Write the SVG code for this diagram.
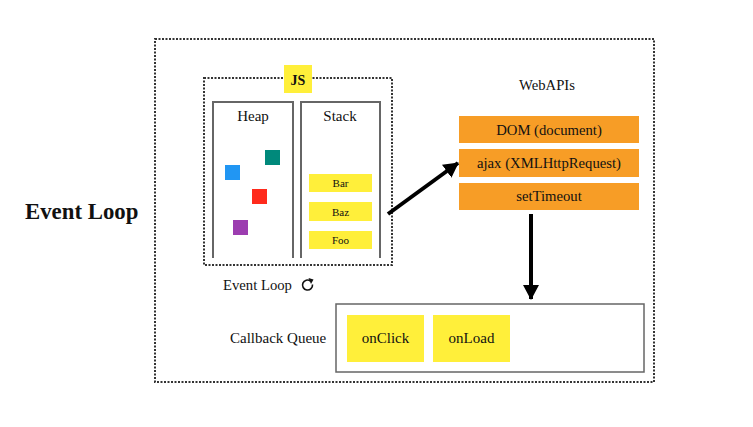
<svg xmlns="http://www.w3.org/2000/svg" width="753" height="427" viewBox="0 0 753 427">
<defs>
<style>
text{font-family:"Liberation Serif","Times New Roman",serif;fill:#111;}
.dot{fill:none;stroke:#333;stroke-width:2;stroke-dasharray:2 1.5;}
.panel{fill:none;stroke:#666;stroke-width:2;}
.stk{fill:#FFEF3A;}
.api{fill:#F79D26;}
.conn{stroke:#000;stroke-width:4;fill:none;}
</style>
<marker id="ah" markerUnits="userSpaceOnUse" markerWidth="18" markerHeight="18" refX="14" refY="9" orient="auto" viewBox="0 0 18 18">
<path d="M0,1 L15,9 L0,17 Z" fill="#000"/>
</marker>
</defs>
<rect width="753" height="427" fill="#fff"/>
<g id="title"><text x="25" y="219" font-size="22.8" font-weight="bold">Event Loop</text></g>
<g id="outer"><rect class="dot" x="155" y="39" width="499" height="343"/></g>
<g id="js-engine">
<rect class="dot" x="204" y="78" width="188" height="187"/>
<rect x="284" y="65" width="28" height="28" fill="#FFEF3A"/>
<text x="298" y="85" font-size="14" font-weight="bold" text-anchor="middle">JS</text>
</g>
<g id="heap">
<path class="panel" d="M213,258 V102 H293 V258"/>
<text x="253" y="121" font-size="15" text-anchor="middle">Heap</text>
<rect x="265" y="150" width="15" height="15" fill="#00897B"/>
<rect x="225" y="165" width="15" height="15" fill="#2196F3"/>
<rect x="252" y="189" width="15" height="15" fill="#FF2A1C"/>
<rect x="233" y="220" width="15" height="15" fill="#9C3DB0"/>
</g>
<g id="stack">
<path class="panel" d="M301,258 V102 H380 V258"/>
<text x="340" y="121" font-size="15" text-anchor="middle">Stack</text>
<g id="bar"><rect class="stk" x="309" y="174" width="63" height="18"/><text x="340.5" y="187" font-size="11" text-anchor="middle">Bar</text></g>
<g id="baz"><rect class="stk" x="309" y="202" width="63" height="19"/><text x="340.5" y="215.5" font-size="11" text-anchor="middle">Baz</text></g>
<g id="foo"><rect class="stk" x="309" y="231" width="63" height="18"/><text x="340.5" y="244" font-size="11" text-anchor="middle">Foo</text></g>
</g>
<g id="webapis">
<text x="547" y="90" font-size="14.7" text-anchor="middle">WebAPIs</text>
<g id="dom"><rect class="api" x="459" y="116" width="180" height="27"/><text x="549" y="134.5" font-size="14.7" text-anchor="middle">DOM (document)</text></g>
<g id="ajax"><rect class="api" x="459" y="149" width="180" height="28"/><text x="549" y="167.5" font-size="14.7" text-anchor="middle">ajax (XMLHttpRequest)</text></g>
<g id="settimeout"><rect class="api" x="459" y="183" width="180" height="27"/><text x="549" y="201" font-size="14.7" text-anchor="middle">setTimeout</text></g>
</g>
<g id="event-loop-label">
<text x="223" y="290" font-size="14.7">Event Loop</text>
<path d="M312.5,284.5 A5,5 0 1 1 310.5,281" fill="none" stroke="#111" stroke-width="1.6"/>
<path d="M308.5,278 L313.5,279.5 L311,284 Z" fill="#111"/>
</g>
<g id="callback-queue">
<text x="230" y="343" font-size="15">Callback Queue</text>
<rect x="336" y="304" width="308" height="68" fill="#fff" stroke="#666" stroke-width="1.5"/>
<g id="onclick"><rect class="stk" x="347" y="315" width="77" height="47"/><text x="385.5" y="343" font-size="15" text-anchor="middle">onClick</text></g>
<g id="onload"><rect class="stk" x="433" y="315" width="77" height="47"/><text x="471.5" y="343" font-size="15" text-anchor="middle">onLoad</text></g>
</g>
<g id="connectors">
<line class="conn" x1="388" y1="214" x2="458" y2="163" marker-end="url(#ah)"/>
<line class="conn" x1="531" y1="214" x2="531" y2="299" marker-end="url(#ah)"/>
</g>
</svg>
